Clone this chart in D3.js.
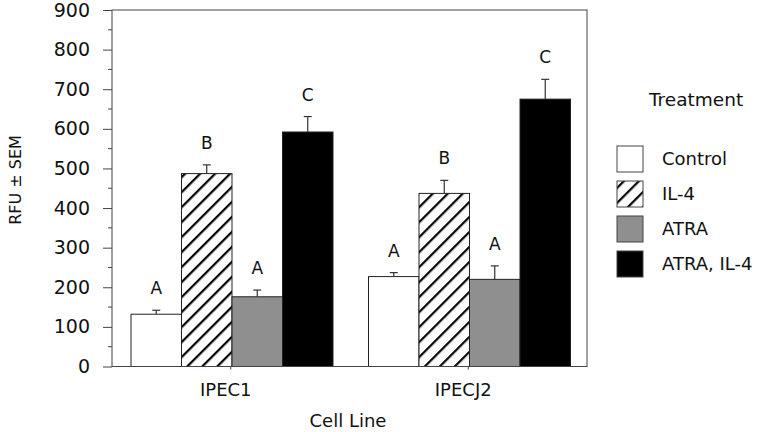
<!DOCTYPE html>
<html>
<head>
<meta charset="utf-8">
<script src="https://cdn.jsdelivr.net/npm/d3@7"></script>
<style>
  body { margin: 0; background: #fff; }
  text { font-family: "DejaVu Sans", sans-serif; fill: #111; }
</style>
</head>
<body>
<div id="chart"></div>
<script>
var width = 765;
var height = 432;

// data
var cellLines = ["IPEC1", "IPECJ2"];
var treatments = ["Control", "IL-4", "ATRA", "ATRA, IL-4"];
var means = [[132, 487, 176, 592],   // IPEC1
             [227, 437, 220, 675]];  // IPECJ2
var sems  = [[10, 22, 17, 39],
             [10, 33, 34, 50]];
var letters = [["A", "B", "A", "C"],
               ["A", "B", "A", "C"]];
var yTicks = [0, 100, 200, 300, 400, 500, 600, 700, 800, 900];

// plot box (window.top is taken, so prefixed names)
var pLeft = 112, pRight = 587, pTop = 10, pBottom = 366.5;

var svg = d3.select("#chart").append("svg")
  .attr("width", width)
  .attr("height", height);

// hatch for IL-4
var defs = svg.append("defs");
defs.append("pattern")
  .attr("id", "hatch")
  .attr("patternUnits", "userSpaceOnUse")
  .attr("width", 10.6).attr("height", 10.6)
  .attr("patternTransform", "rotate(45)")
  .call(function(p){
    p.append("rect").attr("width", 10.6).attr("height", 10.6).attr("fill", "#fff");
    p.append("line").attr("x1", 5).attr("y1", 0).attr("x2", 5).attr("y2", 10.6)
      .attr("stroke", "#000").attr("stroke-width", 2.2);
  });

var fills = ["#fff", "url(#hatch)", "#8f8f8f", "#000"];

var y = d3.scaleLinear().domain([0, 900]).range([pBottom, pTop]);
var x0 = d3.scaleBand().domain(cellLines).range([pLeft, pRight]);
var x1 = d3.scaleBand().domain(treatments).range([19, 221]);

// bars
cellLines.forEach(function(cl, i){
  var g = svg.append("g").attr("transform", "translate(" + x0(cl) + ",0)");
  treatments.forEach(function(t, j){
    var v = means[i][j], e = sems[i][j];
    var bx = x1(t), bw = x1.bandwidth();
    g.append("rect")
      .attr("x", bx).attr("y", y(v))
      .attr("width", bw).attr("height", y(0) - y(v))
      .attr("fill", fills[j])
      .attr("stroke", "#222").attr("stroke-width", 1);
    var cx = bx + bw / 2;
    g.append("line")
      .attr("x1", cx).attr("x2", cx).attr("y1", y(v)).attr("y2", y(v + e))
      .attr("stroke", "#333").attr("stroke-width", 1.2);
    g.append("line")
      .attr("x1", cx - 4).attr("x2", cx + 4).attr("y1", y(v + e)).attr("y2", y(v + e))
      .attr("stroke", "#333").attr("stroke-width", 1.2);
    g.append("text")
      .attr("x", cx).attr("y", y(v + e) - 16)
      .attr("text-anchor", "middle")
      .style("font-size", "17px")
      .text(letters[i][j]);
  });
});

// frame
svg.append("rect")
  .attr("x", pLeft).attr("y", pTop)
  .attr("width", pRight - pLeft).attr("height", pBottom - pTop)
  .attr("fill", "none").attr("stroke", "#444").attr("stroke-width", 1);

// y axis
var yAxis = d3.axisLeft(y).tickValues(yTicks).tickSize(9).tickPadding(13);
var ga = svg.append("g").attr("transform", "translate(" + pLeft + ",0)").call(yAxis);
ga.select(".domain").remove();
ga.selectAll("line").attr("stroke", "#444");
ga.selectAll("text").style("font-size", "19px").style("font-family", "DejaVu Sans");
// minor ticks
svg.selectAll(".minor")
  .data(yTicks.slice(0, -1).map(function(d){ return d + 50; }))
  .enter().append("line")
  .attr("x1", pLeft - 4).attr("x2", pLeft)
  .attr("y1", function(d){ return y(d); }).attr("y2", function(d){ return y(d); })
  .attr("stroke", "#444");

// x axis
var xAxis = d3.axisBottom(x0).tickSize(3).tickPadding(14);
var gx = svg.append("g").attr("transform", "translate(0," + pBottom + ")").call(xAxis);
gx.select(".domain").remove();
gx.selectAll("line").attr("stroke", "#444");
gx.selectAll("text").style("font-size", "18px").style("font-family", "DejaVu Sans")
  .attr("dx", "-5");

// axis titles
svg.append("text")
  .attr("transform", "translate(21,180) rotate(-90)")
  .attr("text-anchor", "middle")
  .style("font-size", "16px")
  .text("RFU ± SEM");
svg.append("text")
  .attr("x", 348).attr("y", 427)
  .attr("text-anchor", "middle")
  .style("font-size", "18px")
  .text("Cell Line");

// legend
svg.append("text")
  .attr("x", 649).attr("y", 106)
  .style("font-size", "18.5px")
  .text("Treatment");
var lg = svg.selectAll(".leg").data(treatments).enter().append("g")
  .attr("transform", function(d, i){ return "translate(617," + (146 + i * 35) + ")"; });
lg.append("rect")
  .attr("width", 26).attr("height", 26)
  .attr("fill", function(d, i){ return fills[i]; })
  .attr("stroke", "#444").attr("stroke-width", 1);
lg.append("text")
  .attr("x", 45).attr("y", 19)
  .style("font-size", "18px")
  .text(function(d){ return d; });
</script>
</body>
</html>
